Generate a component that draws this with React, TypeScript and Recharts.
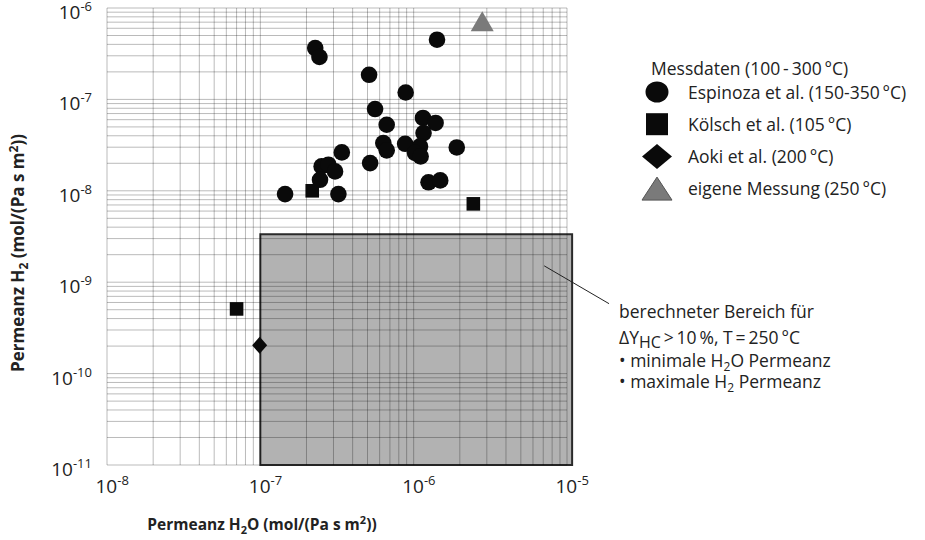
import React from 'react';
import { ScatterChart, Scatter, XAxis, YAxis, ReferenceLine, ReferenceArea } from 'recharts';

// ---- axis ticks ----
const xTicks = [1e-8, 1e-7, 1e-6, 1e-5];
const xTickExp = ['-8', '-7', '-6', '-5'];
const yTicks = [1e-11, 1e-10, 1e-9, 1e-8, 1e-7, 1e-6];
const yTickExp = ['-11', '-10', '-9', '-8', '-7', '-6'];
const gridMantissas = [1, 2, 3, 4, 5, 6, 7, 8, 9];

// ---- series ----
const espinozaX = [2.28e-7, 2.43e-7, 1.42e-6, 5.12e-7, 8.87e-7, 5.6e-7, 6.67e-7, 1.15e-6, 1.39e-6, 1.16e-6,
  6.34e-7, 6.67e-7, 8.8e-7, 1.1e-6, 1.02e-6, 1.11e-6, 1.91e-6, 3.4e-7, 5.2e-7, 2.51e-7,
  2.78e-7, 3.07e-7, 2.45e-7, 1.45e-7, 3.23e-7, 1.25e-6, 1.49e-6];
const espinozaY = [3.65e-7, 2.91e-7, 4.5e-7, 1.86e-7, 1.19e-7, 7.85e-8, 5.28e-8, 6.27e-8, 5.52e-8, 4.28e-8,
  3.33e-8, 2.77e-8, 3.27e-8, 3.06e-8, 2.6e-8, 2.38e-8, 2.98e-8, 2.63e-8, 2.01e-8, 1.85e-8,
  1.93e-8, 1.63e-8, 1.32e-8, 9.2e-9, 9.2e-9, 1.24e-8, 1.3e-8];
const koelschX = [2.18e-7, 2.45e-6, 7.0e-8];
const koelschY = [1.0e-8, 7.2e-9, 5.1e-10];
const aokiX = [9.9e-8];
const aokiY = [2.04e-10];
const eigeneX = [2.8e-6];
const eigeneY = [7.14e-7];

// calculated region and pointer
const regionX = [1e-7, 1.08e-5];
const regionY = [1e-11, 3.34e-9];
const pointerX = [7.1e-6, 1.88e-5];
const pointerY = [1.51e-9, 5.82e-10];

const toPts = (xs: number[], ys: number[]) => xs.map((x, i) => ({ x, y: ys[i] }));
const espinoza = toPts(espinozaX, espinozaY);
const koelsch = toPts(koelschX, koelschY);
const aoki = toPts(aokiX, aokiY);
const eigene = toPts(eigeneX, eigeneY);

const xGrid = xTicks.slice(0, -1).flatMap((d) => gridMantissas.map((m) => m * d)).concat([xTicks[xTicks.length - 1]]);
const yGrid = yTicks.slice(0, -1).flatMap((d) => gridMantissas.map((m) => m * d)).concat([yTicks[yTicks.length - 1]]);

const FONT = '"Open Sans", "DejaVu Sans", sans-serif';

const XTick = (props: any) => {
  const { x, y, index } = props;
  return (
    <text x={x - 11.5} y={y + 28} fontFamily={FONT} fontSize={19} fill="#222" textAnchor="start">
      <tspan>10</tspan>
      <tspan dy={-8} fontSize={13}>{xTickExp[index]}</tspan>
    </text>
  );
};

const YTick = (props: any) => {
  const { x, y, index } = props;
  return (
    <text x={x - 15} y={y + 11} fontFamily={FONT} fontSize={19} fill="#222" textAnchor="end">
      <tspan>10</tspan>
      <tspan dy={-8} fontSize={13}>{yTickExp[index]}</tspan>
    </text>
  );
};

const CircleShape = (p: any) => <circle cx={p.cx} cy={p.cy} r={8.3} fill="#0a0a0a" />;
const SquareShape = (p: any) => <rect x={p.cx - 6.8} y={p.cy - 6.8} width={13.6} height={13.6} fill="#0a0a0a" />;
const DiamondShape = (p: any) => (
  <polygon points={`${p.cx},${p.cy - 8.5} ${p.cx + 7.5},${p.cy} ${p.cx},${p.cy + 8.5} ${p.cx - 7.5},${p.cy}`} fill="#0a0a0a" />
);
const TriangleShape = (p: any) => (
  <polygon points={`${p.cx},${p.cy - 10} ${p.cx + 11.5},${p.cy + 10} ${p.cx - 11.5},${p.cy + 10}`} fill="#7a7a7a" />
);

const legendTitle = 'Messdaten (100\u2009-\u2009300\u2009°C)';
const legendRows = [
  { label: 'Espinoza et al. (150-350\u2009°C)', kind: 'circle' },
  { label: 'Kölsch et al. (105\u2009°C)', kind: 'square' },
  { label: 'Aoki et al. (200\u2009°C)', kind: 'diamond' },
  { label: 'eigene Messung (250\u2009°C)', kind: 'triangle' },
];

const LegendMarker = ({ kind, cx, cy }: { kind: string; cx: number; cy: number }) => {
  if (kind === 'circle') return <ellipse cx={cx} cy={cy} rx={11.5} ry={10.5} fill="#0a0a0a" />;
  if (kind === 'square') return <rect x={cx - 11} y={cy - 11} width={22} height={22} fill="#0a0a0a" />;
  if (kind === 'diamond')
    return <polygon points={`${cx},${cy - 12.5} ${cx + 15},${cy} ${cx},${cy + 12.5} ${cx - 15},${cy}`} fill="#0a0a0a" />;
  return (
    <polygon points={`${cx},${cy - 11.5} ${cx + 15},${cy + 11.5} ${cx - 15},${cy + 11.5}`} fill="#7a7a7a" stroke="#555" strokeWidth={1} />
  );
};

export default function App() {
  return (
    <div style={{ position: 'absolute', left: 0, top: 0, width: 925, height: 540, background: '#fff' }}>
      <ScatterChart width={925} height={540} margin={{ top: 8, right: 358, bottom: 0, left: 0 }}>
        <XAxis
          type="number"
          dataKey="x"
          scale="log"
          domain={[xTicks[0], xTicks[xTicks.length - 1]]}
          ticks={xTicks}
          allowDataOverflow
          axisLine={false}
          tickLine={false}
          tickSize={0}
          tickMargin={0}
          height={75}
          tick={(p: any) => <XTick {...p} />}
          interval={0}
        />
        <YAxis
          type="number"
          dataKey="y"
          scale="log"
          domain={[yTicks[0], yTicks[yTicks.length - 1]]}
          ticks={yTicks}
          allowDataOverflow
          axisLine={false}
          tickLine={false}
          tickSize={0}
          tickMargin={0}
          width={107}
          tick={(p: any) => <YTick {...p} />}
          interval={0}
        />
        <ReferenceArea
          x1={regionX[0]}
          x2={regionX[1]}
          y1={regionY[0]}
          y2={regionY[1]}
          fill="#b2b2b2"
          fillOpacity={1}
          stroke="#2a2a2a"
          strokeWidth={2}
          strokeOpacity={1}
          ifOverflow="visible"
        />
        {xGrid.map((v) => (
          <ReferenceLine key={'vx' + v} x={v} stroke="#000" strokeOpacity={0.27} strokeWidth={1} />
        ))}
        {yGrid.map((v) => (
          <ReferenceLine key={'hy' + v} y={v} stroke="#000" strokeOpacity={0.27} strokeWidth={1} />
        ))}
        <ReferenceLine
          segment={[
            { x: pointerX[0], y: pointerY[0] },
            { x: pointerX[1], y: pointerY[1] },
          ]}
          stroke="#222"
          strokeWidth={1}
          ifOverflow="visible"
        />
        <Scatter data={espinoza} isAnimationActive={false} shape={(p: any) => <CircleShape {...p} />} />
        <Scatter data={koelsch} isAnimationActive={false} shape={(p: any) => <SquareShape {...p} />} />
        <Scatter data={aoki} isAnimationActive={false} shape={(p: any) => <DiamondShape {...p} />} />
        <Scatter data={eigene} isAnimationActive={false} shape={(p: any) => <TriangleShape {...p} />} />
      </ScatterChart>
      <svg width={925} height={540} style={{ position: 'absolute', left: 0, top: 0, pointerEvents: 'none' }}>
        <g fontFamily={FONT} fill="#222">
          <text x={262} y={530} fontSize={15.5} fontWeight="bold" textAnchor="middle">
            <tspan>Permeanz H</tspan>
            <tspan dy={4} fontSize={11}>2</tspan>
            <tspan dy={-4}>O (mol/(Pa s m</tspan>
            <tspan dy={-6} fontSize={11}>2</tspan>
            <tspan dy={6}>))</tspan>
          </text>
          <text x={0} y={0} fontSize={17} fontWeight="bold" textAnchor="middle" transform="translate(24,253) rotate(-90)">
            <tspan>Permeanz H</tspan>
            <tspan dy={4} fontSize={12}>2</tspan>
            <tspan dy={-4}> (mol/(Pa s m</tspan>
            <tspan dy={-6} fontSize={12}>2</tspan>
            <tspan dy={6}>))</tspan>
          </text>
          <text x={651} y={75} fontSize={17.5}>{legendTitle}</text>
          {legendRows.map((r, i) => (
            <g key={r.label}>
              <LegendMarker kind={r.kind} cx={657} cy={92 + i * 32.2} />
              <text x={688} y={92 + i * 32.2 + 6.5} fontSize={17.5}>{r.label}</text>
            </g>
          ))}
          <text x={619} y={317.5} fontSize={17.5}>berechneter Bereich für</text>
          <text x={619} y={344} fontSize={17.5}>
            <tspan>ΔY</tspan>
            <tspan dy={4} fontSize={16}>HC</tspan>
            <tspan dy={-4}>{'\u2009>\u200910\u2009%, T\u2009=\u2009250\u2009°C'}</tspan>
          </text>
          <text x={619} y={366.5} fontSize={17.5}>
            <tspan>• minimale H</tspan>
            <tspan dy={4} fontSize={12}>2</tspan>
            <tspan dy={-4}>O Permeanz</tspan>
          </text>
          <text x={619} y={387.5} fontSize={17.5}>
            <tspan>• maximale H</tspan>
            <tspan dy={4} fontSize={12}>2</tspan>
            <tspan dy={-4}> Permeanz</tspan>
          </text>
        </g>
      </svg>
    </div>
  );
}
